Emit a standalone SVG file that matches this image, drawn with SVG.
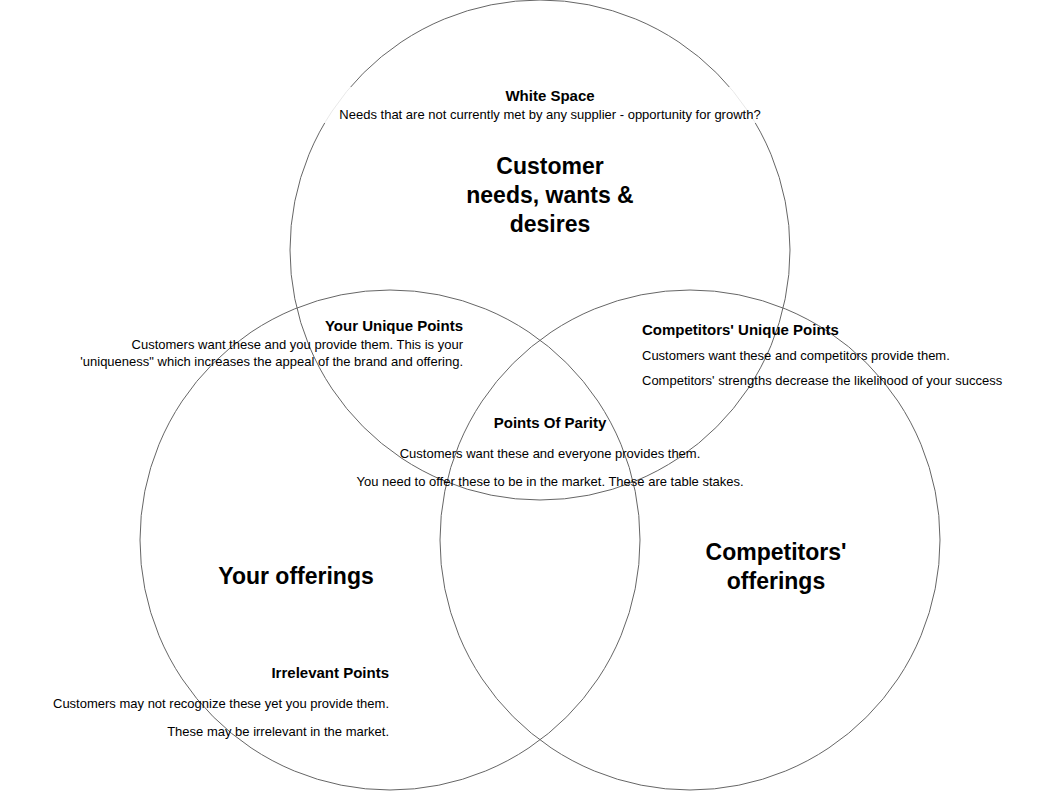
<svg xmlns="http://www.w3.org/2000/svg" width="1050" height="791" viewBox="0 0 1050 791">
<style>
.c{fill:none;stroke:#666;stroke-width:1}
text{font-family:"Liberation Sans",Arial,sans-serif;fill:#000}
.h{font-weight:bold;font-size:15px}
.t{font-size:13px}
.big{font-weight:bold;font-size:23px}
</style>
<rect width="1050" height="791" fill="#fff"/>
<g id="circles">
<circle id="customer" class="c" cx="540" cy="250" r="250"/>
<circle id="yours" class="c" cx="390" cy="540" r="250"/>
<circle id="competitors" class="c" cx="690" cy="540" r="250"/>
</g>
<g id="white-space">
<rect x="323" y="87" width="454" height="36" fill="#fff" opacity="0.85"/>
<text class="h" x="550" y="101" text-anchor="middle">White Space</text>
<text class="t" x="550" y="119" text-anchor="middle">Needs that are not currently met by any supplier - opportunity for growth?</text>
</g>
<g id="customer-label" text-anchor="middle">
<text class="big" x="550" y="174">Customer</text>
<text class="big" x="550" y="203">needs, wants &amp;</text>
<text class="big" x="550" y="232">desires</text>
</g>
<g id="your-unique" text-anchor="end">
<text class="h" x="463" y="331">Your Unique Points</text>
<text class="t" x="463" y="349">Customers want these and you provide them. This is your</text>
<text class="t" x="463" y="366">'uniqueness" which increases the appeal of the brand and offering.</text>
</g>
<g id="comp-unique">
<text class="h" x="642" y="335">Competitors' Unique Points</text>
<text class="t" x="642" y="360">Customers want these and competitors provide them.</text>
<text class="t" x="642" y="385">Competitors' strengths decrease the likelihood of your success</text>
</g>
<g id="parity" text-anchor="middle">
<text class="h" x="550" y="428">Points Of Parity</text>
<text class="t" x="550" y="458">Customers want these and everyone provides them.</text>
<text class="t" x="550" y="486">You need to offer these to be in the market. These are table stakes.</text>
</g>
<g id="your-offerings"><text class="big" x="296" y="584" text-anchor="middle">Your offerings</text></g>
<g id="comp-offerings" text-anchor="middle">
<text class="big" x="776" y="560">Competitors'</text>
<text class="big" x="776" y="589">offerings</text>
</g>
<g id="irrelevant" text-anchor="end">
<text class="h" x="389" y="678">Irrelevant Points</text>
<text class="t" x="389" y="708">Customers may not recognize these yet you provide them.</text>
<text class="t" x="389" y="736">These may be irrelevant in the market.</text>
</g>
<g id="connectors"/>
</svg>
